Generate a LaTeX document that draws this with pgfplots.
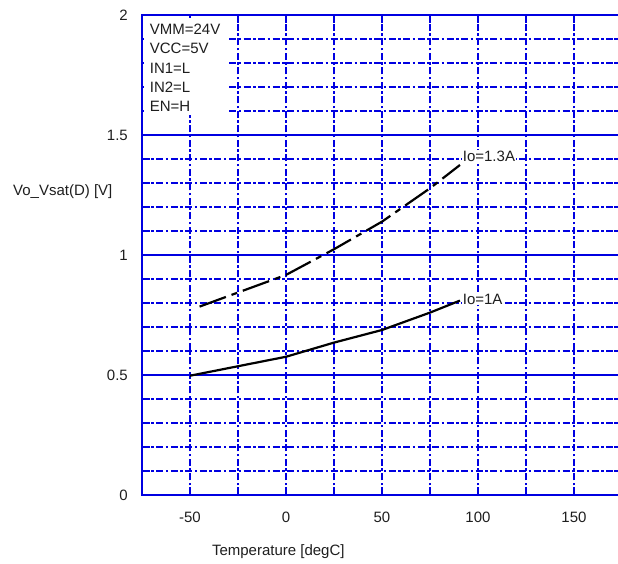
\documentclass[border=0pt]{standalone}
\usepackage{fontspec}
\setmainfont{Liberation Sans}
\usepackage{pgfplots}
\pgfplotsset{compat=1.18}
\definecolor{gridblue}{RGB}{0,0,225}
\definecolor{txt}{RGB}{30,30,30}

\begin{document}
\fontsize{15pt}{18pt}\selectfont
\begin{tikzpicture}
% page area: the axis box runs on past the right edge, as in the reference
\useasboundingbox (-142pt,-69pt) rectangle (476pt,495pt);
\begin{axis}[
  at={(0,0)}, anchor=south west,
  scale only axis,
  width=480pt, height=480pt,
  xmin=-75, xmax=175,
  ymin=0, ymax=2,
  xtick={-50,0,50,100,150},
  minor xtick={-25,25,75,125},
  ytick={0,0.5,1,1.5,2},
  minor ytick={0.1,0.2,0.3,0.4,0.6,0.7,0.8,0.9,1.1,1.2,1.3,1.4,1.6,1.7,1.8,1.9},
  yticklabels={0,0.5,1,1.5,2},
  xticklabels={-50,0,50,100,150},
  grid=both,
  major x grid style={gridblue, line width=2pt, dash pattern=on 7pt off 2.5pt on 2.5pt off 2.5pt},
  minor x grid style={gridblue, line width=2pt, dash pattern=on 7pt off 2.5pt on 2.5pt off 2.5pt},
  major y grid style={gridblue, line width=2.2pt, solid},
  minor y grid style={gridblue, line width=2pt, dash pattern=on 7pt off 2.5pt on 2.5pt off 2.5pt},
  axis line style={gridblue, line width=2.6pt},
  tick style={gridblue, line width=2pt},
  major tick length=8pt, minor tick length=8pt,
  ticklabel style={font=\fontsize{15pt}{18pt}\selectfont, text=txt},
  xticklabel style={anchor=center, yshift=-22pt},
  yticklabel style={anchor=east, xshift=-9pt},
  /pgf/number format/assume math mode=true,
  xlabel={Temperature [degC]},
  xlabel style={at={(axis description cs:0.284,0)}, anchor=center, yshift=-57pt, text=txt},
  ylabel={Vo\_Vsat(D) [V]},
  ylabel style={rotate=-90, at={(axis description cs:0,0.63125)}, anchor=west, xshift=-134pt, text=txt},
  clip=false,
]
% Io = 1.3A
\addplot[black, line width=2.2pt, dash pattern=on 28pt off 6pt on 6pt off 6pt]
  coordinates {(-45,0.785) (0,0.917) (25,1.024) (50,1.139) (75,1.278) (90.6,1.375)};
% Io = 1A
\addplot[black, line width=2.2pt]
  coordinates {(-50,0.497) (0,0.576) (25,0.635) (50,0.6875) (75,0.76) (90.6,0.81)};

\node[fill=white, anchor=west, inner sep=1pt, text=txt] at (axis cs:91.5,1.41) {Io=1.3A};
\node[fill=white, anchor=west, inner sep=1pt, text=txt] at (axis cs:91.5,0.817) {Io=1A};

\fill[white] (axis cs:-74,1.988) rectangle (axis cs:-30.2,1.585);
\node[anchor=base west, inner sep=0pt, text=txt] at (axis cs:-71,1.919) {VMM=24V};
\node[anchor=base west, inner sep=0pt, text=txt] at (axis cs:-71,1.839) {VCC=5V};
\node[anchor=base west, inner sep=0pt, text=txt] at (axis cs:-71,1.758) {IN1=L};
\node[anchor=base west, inner sep=0pt, text=txt] at (axis cs:-71,1.678) {IN2=L};
\node[anchor=base west, inner sep=0pt, text=txt] at (axis cs:-71,1.597) {EN=H};
\end{axis}
\end{tikzpicture}
\end{document}
